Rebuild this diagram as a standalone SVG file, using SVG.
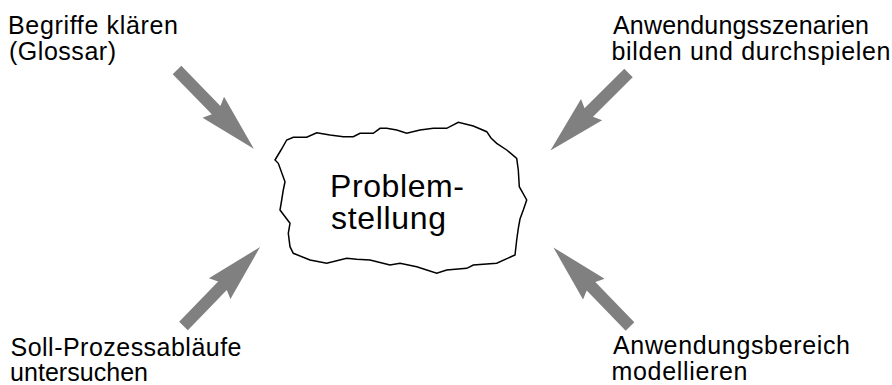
<svg xmlns="http://www.w3.org/2000/svg" width="892" height="385" viewBox="0 0 892 385">
  <style>
    .lbl { font-family: "Liberation Sans", Arial, Helvetica, sans-serif; font-size: 25px; fill: #000; }
    .big { font-family: "Liberation Sans", Arial, Helvetica, sans-serif; font-size: 32px; fill: #000; }
    .cloud { fill: #fff; stroke: #000; stroke-width: 1.5; stroke-linejoin: miter; }
    .arrow { fill: #808080; stroke: none; }
  </style>
  <defs>
    <path id="arr" d="M0,-6 L56,-6 L52,-15 L110,0 L52,15 L56,6 L0,6 Z"/>
  </defs>
  <rect width="892" height="385" fill="#fff"/>

  <g id="connectors">
    <use href="#arr" class="arrow" transform="translate(177,70) rotate(45.7)"/>
    <use href="#arr" class="arrow" transform="translate(628.5,73) rotate(135.2)"/>
    <use href="#arr" class="arrow" transform="translate(183.5,326) rotate(-45.9)"/>
    <use href="#arr" class="arrow" transform="translate(630,326.5) rotate(-134.1)"/>
  </g>

  <g id="problemstellung">
    <polygon class="cloud" points="275,160 281,150 286.7,140 293.3,137.3 306.7,137.3 316.7,132.7 330,135 343.3,136.7 353.3,136.7 360,133.3 373.3,133.3 380,128.3 386.7,128.3 396.7,130 406.7,133.3 420,130 433.3,128.3 446.7,128.3 458.3,122.3 473.3,126 486.7,131.7 491,138 496.7,143.3 506.7,150 516.7,158.3 518.3,170 519.3,186.7 526.7,200 523.3,210 520,219 518.3,228.3 516.7,240 515,255 496.7,263.3 473.3,265 466.7,268.3 446.7,270 436.7,273.3 416.7,266.7 400,263.3 390,265 370,260 356.7,259.3 346.7,258.3 326.7,263.3 310,260 293.3,253.3 290,246.7 288.3,233.3 290,223.3 280,210 281.7,200 283.3,190 285,181.7 278.3,163.3"/>
    <text class="big" x="330" y="197" textLength="134">Problem-</text>
    <text class="big" x="331" y="229" textLength="115">stellung</text>
  </g>

  <g id="glossar">
    <text class="lbl" x="8" y="33.5" textLength="170">Begriffe klären</text>
    <text class="lbl" x="9" y="59.5" textLength="107">(Glossar)</text>
  </g>

  <g id="szenarien">
    <text class="lbl" x="613" y="33.5" textLength="256">Anwendungsszenarien</text>
    <text class="lbl" x="611.5" y="59.5" textLength="279">bilden und durchspielen</text>
  </g>

  <g id="sollprozesse">
    <text class="lbl" x="10.5" y="356" textLength="231">Soll-Prozessabläufe</text>
    <text class="lbl" x="10" y="381" textLength="138">untersuchen</text>
  </g>

  <g id="anwendungsbereich">
    <text class="lbl" x="613" y="354" textLength="237">Anwendungsbereich</text>
    <text class="lbl" x="611.5" y="380" textLength="136">modellieren</text>
  </g>
</svg>
